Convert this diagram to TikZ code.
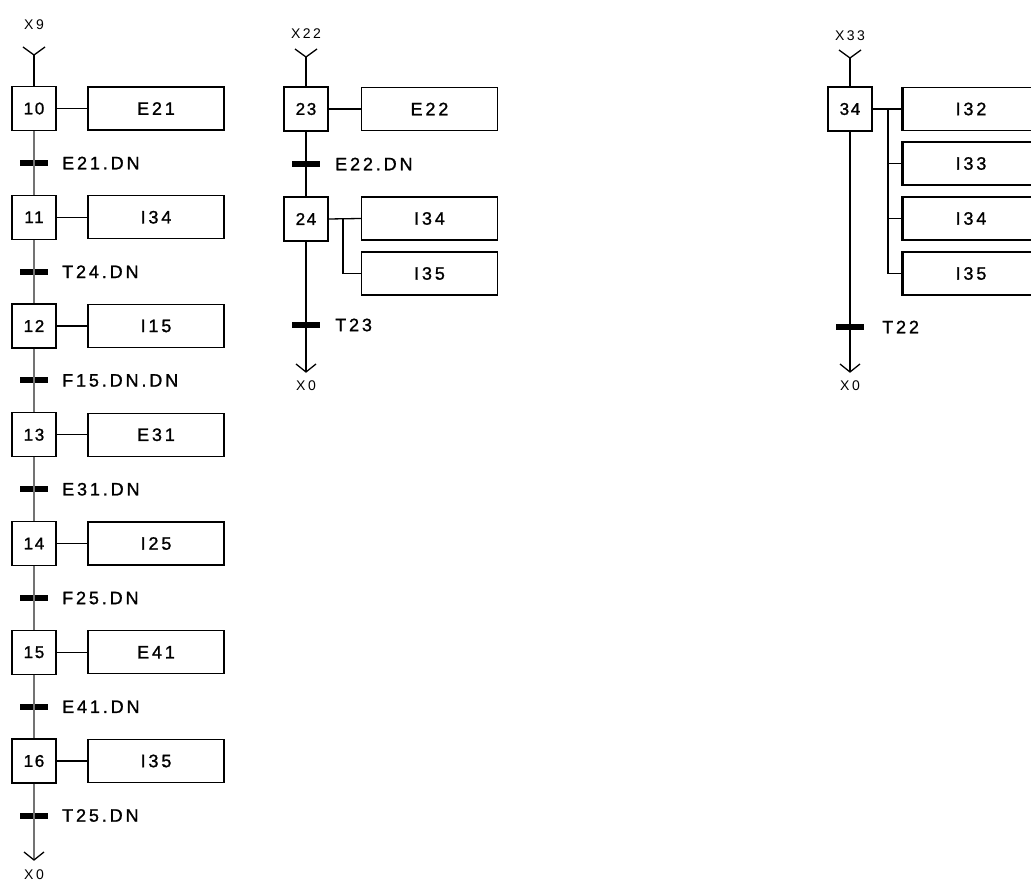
\documentclass[tikz,border=0pt]{standalone}
\usepackage{fontspec}
\setmainfont{Liberation Sans}
\newfontfamily\lbl[LetterSpace=16,FakeBold=1.2]{Liberation Sans}
\newfontfamily\nlbl[LetterSpace=10,FakeBold=1.2]{Liberation Sans}
\newfontfamily\xlbl[LetterSpace=18]{Liberation Sans}
\begin{document}
\begin{tikzpicture}[x=1pt,y=-1pt,
  stepbox/.style={draw,line width=1.3pt,minimum width=44pt,minimum height=44pt,inner sep=0pt,font=\nlbl\fontsize{17}{19}\selectfont},
  actbox/.style={draw,line width=1.3pt,minimum width=136pt,minimum height=43pt,inner sep=0pt,font=\lbl\fontsize{18}{20}\selectfont},
  bar/.style={fill=black,minimum width=28pt,minimum height=6pt,inner sep=0pt},
  tlabel/.style={anchor=west,inner sep=0pt,font=\lbl\fontsize{18}{20}\selectfont},
  xlabel/.style={inner sep=0pt,font=\xlbl\fontsize{14}{16}\selectfont},
  link/.style={line width=1.3pt},
  glink/.style={line width=1.3pt,black!55}]
\useasboundingbox (0,0) rectangle (1031,882);

% ---------------- Column 1 ----------------
\node[xlabel] (x9) at (34,25) {X9};
\coordinate (in1) at (34,55);
\foreach \k/\a/\t [count=\i from 0] in {10/E21/E21.DN,11/I34/T24.DN,12/I15/F15.DN.DN,13/E31/E31.DN,14/I25/F25.DN,15/E41/E41.DN,16/I35/T25.DN}{
  \node[stepbox] (s\k) at (34,{108.5+108.75*\i}) {\k};
  \node[actbox] (a\k) at (156,{108.5+108.75*\i}) {\a};
  \draw[link] (s\k.east) -- (a\k.west);
  \node[bar] (b\k) at (34,{163+108.75*\i}) {};
  \node[tlabel] (l\k) at (62,{163+108.75*\i}) {\t};
}
\draw[link] ([shift={(-11,-8)}]in1) -- (in1) -- ([shift={(11,-8)}]in1);
\draw[link] (in1) -- (s10.north);
\foreach \p/\q in {10/11,11/12,12/13,13/14,14/15,15/16}{
  \draw[glink] (s\p.south) -- (s\q.north);
}
\coordinate (out1) at (34,860);
\draw[glink] (s16.south) -- (out1);
\draw[link] ([shift={(-10,-8)}]out1) -- (out1) -- ([shift={(10,-8)}]out1);
\node[xlabel] (x0a) at (34,875) {X0};

% ---------------- Column 2 ----------------
\node[xlabel] (x22) at (306,34) {X22};
\coordinate (in2) at (306,57);
\draw[link] ([shift={(-11,-8)}]in2) -- (in2) -- ([shift={(11,-8)}]in2);
\node[stepbox] (s23) at (306,109) {23};
\node[actbox] (a23) at (429.5,109) {E22};
\draw[link] (in2) -- (s23.north);
\draw[link] (s23.east) -- (a23.west);
\node[bar] (b23) at (306,164) {};
\node[tlabel] (l23) at (335,164) {E22.DN};
\node[stepbox] (s24) at (306,219) {24};
\node[actbox] (a24a) at (429.5,218.5) {I34};
\node[actbox] (a24b) at (429.5,273.5) {I35};
\draw[link] (s23.south) -- (s24.north);
\coordinate (br2) at (343,218.5);
\draw[link] (s24.east) -- (a24a.west);
\draw[link] (br2) |- (a24b.west);
\node[bar] (b24) at (306,325) {};
\node[tlabel] (l24) at (335,325) {T23};
\coordinate (out2) at (306,372);
\draw[link] (s24.south) -- (out2);
\draw[link] ([shift={(-10,-8)}]out2) -- (out2) -- ([shift={(10,-8)}]out2);
\node[xlabel] (x0b) at (306,386) {X0};

% ---------------- Column 3 ----------------
\node[xlabel] (x33) at (850,36) {X33};
\coordinate (in3) at (850,58);
\draw[link] ([shift={(-11,-8)}]in3) -- (in3) -- ([shift={(11,-8)}]in3);
\node[stepbox] (s34) at (850,109) {34};
\draw[link] (in3) -- (s34.north);
\foreach \n/\y in {I32/109,I33/163.5,I34/218.5,I35/273.5}{
  \node[actbox] (c\n) at (971,\y) {\n};
  \draw[line width=3pt] (c\n.north west) -- (c\n.south west);
}
\coordinate (br3) at (888,109);
\draw[link] (s34.east) -- (cI32.west);
\draw[link] (br3) |- (cI33.west);
\draw[link] (br3) |- (cI34.west);
\draw[link] (br3) |- (cI35.west);
\node[bar] (b34) at (850,327) {};
\node[tlabel] (l34) at (882,327) {T22};
\coordinate (out3) at (850,372);
\draw[link] (s34.south) -- (out3);
\draw[link] ([shift={(-10,-8)}]out3) -- (out3) -- ([shift={(10,-8)}]out3);
\node[xlabel] (x0c) at (850,386) {X0};
\end{tikzpicture}
\end{document}
